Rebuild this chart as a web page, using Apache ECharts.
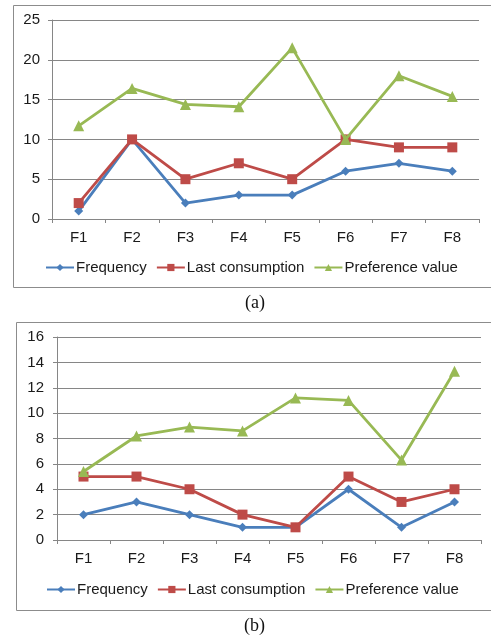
<!DOCTYPE html>
<html>
<head>
<meta charset="utf-8">
<script src="https://cdn.jsdelivr.net/npm/echarts@6/dist/echarts.min.js"></script>
<style>
  html, body { margin: 0; padding: 0; background: #fff; }
  #chart { width: 491px; height: 639px; }
</style>
</head>
<body>
<div id="chart"></div>
<script>
// Categories shared by both panels
const categories = ['F1', 'F2', 'F3', 'F4', 'F5', 'F6', 'F7', 'F8'];
const seriesNames = ['Frequency', 'Last consumption', 'Preference value'];

// Panel (a)
const freqA = [1, 10, 2, 3, 3, 6, 7, 6];
const lastA = [2, 10, 5, 7, 5, 10, 9, 9];
const prefA = [11.7, 16.4, 14.4, 14.1, 21.5, 10.0, 18.0, 15.4];
const ticksA = { min: 0, max: 25, interval: 5 };

// Panel (b)
const freqB = [2, 3, 2, 1, 1, 4, 1, 3];
const lastB = [5, 5, 4, 2, 1, 5, 3, 4];
const prefB = [5.4, 8.2, 8.9, 8.6, 11.2, 11.0, 6.3, 13.3];
const ticksB = { min: 0, max: 16, interval: 2 };

const colors = ['#4a7ebb', '#be4b48', '#98b954'];
const symbols = ['diamond', 'rect', 'triangle'];
const symbolSizes = [9, 10, 11];
const font = 'Liberation Sans, Arial, sans-serif';
const gridColor = '#868686';
const textColor = '#1a1a1a';

function xAxisFor(gi) {
  return {
    type: 'category', gridIndex: gi, data: categories, boundaryGap: true,
    axisLine: { lineStyle: { color: gridColor, width: 1 } },
    axisTick: { show: true, length: 4, alignWithLabel: false, lineStyle: { color: gridColor } },
    axisLabel: { color: textColor, fontSize: 15, fontFamily: font, margin: 11 }
  };
}
function yAxisFor(gi, t, margin) {
  return {
    type: 'value', gridIndex: gi, min: t.min, max: t.max, interval: t.interval,
    axisLine: { show: true, lineStyle: { color: gridColor, width: 1 } },
    axisTick: { show: true, length: 4, lineStyle: { color: gridColor } },
    axisLabel: { color: textColor, fontSize: 15, fontFamily: font, margin: margin },
    splitLine: { show: true, lineStyle: { color: gridColor, width: 1 } }
  };
}
function lineSeries(name, data, k, gi) {
  return {
    name: name, type: 'line', data: data,
    xAxisIndex: gi, yAxisIndex: gi,
    symbol: symbols[k], symbolSize: symbolSizes[k],
    lineStyle: { color: colors[k], width: 2.8 },
    itemStyle: { color: colors[k], borderWidth: 0 },
    emphasis: { disabled: true },
    animation: false, z: 3 + k
  };
}
function legendFor(left, top) {
  return {
    show: true, left: left, top: top, orient: 'horizontal',
    data: seriesNames, itemWidth: 28, itemHeight: 9, itemGap: 9,
    textStyle: { color: textColor, fontSize: 15, fontFamily: font, padding: [0, 0, 0, -3] },
    selectedMode: false
  };
}

const chart = echarts.init(document.getElementById('chart'), null, { renderer: 'canvas' });
chart.setOption({
  backgroundColor: '#fff',
  animation: false,
  color: colors,
  grid: [
    { left: 52, right: 12, top: 20, bottom: 639 - 219 },
    { left: 57, right: 10, top: 337, bottom: 639 - 540 }
  ],
  xAxis: [xAxisFor(0), xAxisFor(1)],
  yAxis: [yAxisFor(0, ticksA, 12), yAxisFor(1, ticksB, 13)],
  legend: [legendFor(40, 255), legendFor(41, 577)],
  series: [
    lineSeries(seriesNames[0], freqA, 0, 0),
    lineSeries(seriesNames[1], lastA, 1, 0),
    lineSeries(seriesNames[2], prefA, 2, 0),
    lineSeries(seriesNames[0], freqB, 0, 1),
    lineSeries(seriesNames[1], lastB, 1, 1),
    lineSeries(seriesNames[2], prefB, 2, 1)
  ],
  graphic: [
    { type: 'rect', shape: { x: 13.5, y: 5.5, width: 500, height: 282 },
      style: { fill: 'none', stroke: '#8c8c8c', lineWidth: 1 }, silent: true, z: -1 },
    { type: 'rect', shape: { x: 16.5, y: 322.5, width: 500, height: 288 },
      style: { fill: 'none', stroke: '#8c8c8c', lineWidth: 1 }, silent: true, z: -1 },
    { type: 'text', left: 245, top: 294,
      style: { text: '(a)', fontSize: 18, fontFamily: 'Liberation Serif, Times New Roman, serif', fill: '#111' } },
    { type: 'text', left: 244, top: 617,
      style: { text: '(b)', fontSize: 18, fontFamily: 'Liberation Serif, Times New Roman, serif', fill: '#111' } }
  ]
});
</script>
</body>
</html>
